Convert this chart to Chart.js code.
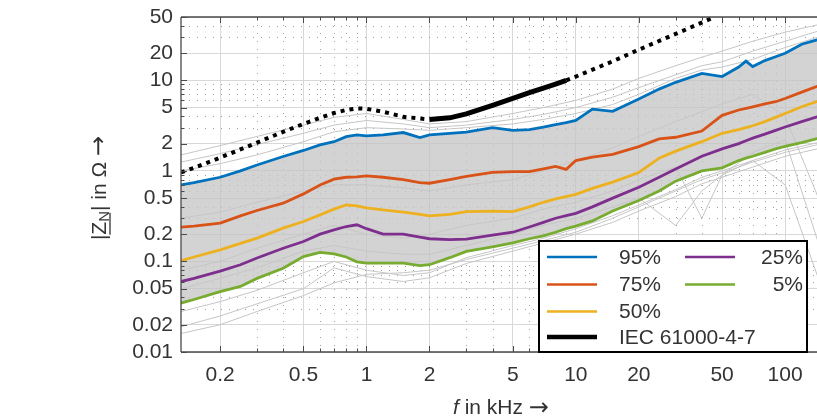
<!DOCTYPE html>
<html>
<head>
<meta charset="utf-8">
<script src="https://cdn.jsdelivr.net/npm/chart.js@4.4.1/dist/chart.umd.min.js"></script>
<style>
	html, body { margin: 0; padding: 0; background: #fff; overflow: hidden; }
	#wrap { width: 830px; height: 420px; }
</style>
</head>
<body>
<div id="wrap"><canvas id="zChart" width="830" height="420"></canvas></div>
<script>
// frequency grid of the percentile curves (kHz)
const freq = [0.13, 0.15, 0.2, 0.25, 0.3, 0.4, 0.5, 0.6, 0.7, 0.8, 0.9, 1, 1.2, 1.5, 1.8, 2, 2.5, 3, 4, 5, 6, 7, 8, 9, 10, 12, 15, 20, 25, 30, 40, 50, 60, 65, 70, 80, 90, 100, 120, 150];

// percentiles of |Z_N| in Ohm
const p95 = [0.70, 0.74, 0.85, 1.0, 1.16, 1.44, 1.68, 1.94, 2.10, 2.39, 2.5, 2.43, 2.5, 2.65, 2.33, 2.5, 2.6, 2.68, 3.0, 2.8, 2.85, 3.05, 3.25, 3.4, 3.6, 4.8, 4.55, 6.2, 8.0, 9.5, 11.9, 11.0, 14.0, 16.3, 14.2, 16.5, 18.2, 19.9, 25, 29];
const p75 = [0.239, 0.245, 0.265, 0.318, 0.365, 0.44, 0.557, 0.70, 0.81, 0.85, 0.86, 0.88, 0.85, 0.80, 0.74, 0.73, 0.80, 0.87, 0.96, 0.98, 0.98, 1.05, 1.12, 1.04, 1.30, 1.42, 1.52, 1.85, 2.25, 2.35, 2.75, 4.1, 4.7, 4.9, 5.1, 5.5, 5.8, 6.3, 7.4, 9.0];
const p50 = [0.102, 0.112, 0.134, 0.158, 0.181, 0.233, 0.276, 0.327, 0.378, 0.42, 0.41, 0.39, 0.37, 0.35, 0.33, 0.318, 0.33, 0.355, 0.36, 0.355, 0.40, 0.45, 0.49, 0.52, 0.55, 0.64, 0.75, 0.96, 1.38, 1.65, 2.1, 2.6, 2.85, 3.0, 3.15, 3.5, 3.9, 4.3, 5.1, 6.1];
const p25 = [0.060, 0.065, 0.078, 0.092, 0.109, 0.14, 0.166, 0.20, 0.223, 0.243, 0.254, 0.23, 0.20, 0.20, 0.185, 0.178, 0.174, 0.176, 0.195, 0.21, 0.24, 0.27, 0.30, 0.32, 0.34, 0.40, 0.50, 0.66, 0.85, 1.05, 1.45, 1.75, 2.0, 2.15, 2.3, 2.55, 2.8, 3.05, 3.5, 4.1];
const p5 = [0.0347, 0.038, 0.0465, 0.053, 0.065, 0.084, 0.113, 0.126, 0.121, 0.112, 0.099, 0.096, 0.096, 0.096, 0.090, 0.092, 0.11, 0.129, 0.145, 0.16, 0.178, 0.192, 0.21, 0.23, 0.245, 0.28, 0.36, 0.47, 0.6, 0.77, 1.0, 1.08, 1.3, 1.38, 1.45, 1.6, 1.75, 1.86, 2.05, 2.35];

// IEC 61000-4-7 reference impedance (solid inside 2..9 kHz)
const iecFreq = [0.13, 0.15, 0.2, 0.3, 0.4, 0.5, 0.6, 0.7, 0.8, 0.9, 1, 1.2, 1.5, 2, 2.5, 3, 4, 5, 6, 7, 8, 9, 10, 15, 20, 30, 46];
const iecZ = [0.96, 1.08, 1.4, 2.05, 2.7, 3.3, 3.85, 4.35, 4.7, 4.9, 4.85, 4.5, 3.95, 3.7, 3.85, 4.25, 5.3, 6.3, 7.3, 8.2, 9.1, 10.0, 11.0, 16.2, 21.8, 32.5, 50];
const iecSolidFrom = 2;
const iecSolidTo = 9;

// a few of the individual measured curves (grey)
const grayFreq = [0.13, 0.2, 0.3, 0.5, 0.7, 1, 1.5, 2, 3, 5, 7, 10, 15, 20, 30, 40, 50, 70, 100, 150];
const grayUp1 = [1.5, 1.9, 2.4, 3.2, 3.9, 4.3, 3.7, 3.3, 3.5, 4.3, 5.0, 6.0, 8.0, 10.5, 14.5, 18, 21, 27, 34, 42];
const grayUp2 = [1.25, 1.55, 1.95, 2.6, 3.2, 3.6, 3.3, 3.0, 3.2, 3.7, 4.2, 5.0, 6.5, 8.3, 11.5, 14.5, 16, 21, 27, 36];
const grayUp3 = [1.0, 1.2, 1.5, 2.1, 2.7, 3.0, 2.9, 2.8, 3.0, 3.3, 3.7, 4.3, 5.4, 7.0, 10.5, 13, 14, 17, 23, 31];
const grayLow1 = [0.016, 0.02, 0.028, 0.042, 0.058, 0.072, 0.075, 0.08, 0.105, 0.14, 0.17, 0.21, 0.3, 0.4, 0.6, 0.8, 0.95, 1.25, 1.6, 2.0];
const grayLow2 = [0.019, 0.025, 0.034, 0.05, 0.085, 0.068, 0.06, 0.066, 0.095, 0.13, 0.16, 0.2, 0.27, 0.36, 0.52, 0.72, 0.85, 1.1, 1.45, 1.8];
const grayLow3 = [0.028, 0.036, 0.048, 0.075, 0.1, 0.08, 0.07, 0.075, 0.11, 0.15, 0.18, 0.23, 0.32, 0.42, 0.62, 0.85, 1.0, 1.3, 1.7, 2.1];
const grayRes1 = [0.05, 0.065, 0.085, 0.13, 0.15, 0.13, 0.12, 0.12, 0.15, 0.2, 0.25, 0.3, 0.4, 0.5, 0.25, 0.6, 0.9, 1.3, 0.7, 0.05];
const grayRes2 = [0.08, 0.1, 0.14, 0.2, 0.25, 0.2, 0.18, 0.2, 0.25, 0.3, 0.38, 0.45, 0.6, 0.8, 1.1, 0.3, 0.9, 1.6, 2.2, 0.12];
const grayRes3 = [0.3, 0.35, 0.45, 0.6, 0.7, 0.7, 0.65, 0.6, 0.7, 0.8, 1.0, 1.3, 1.8, 2.4, 3.5, 4.5, 5.5, 7, 4, 0.4];

// axis ticks
const xMajor = [0.2, 0.5, 1, 2, 5, 10, 20, 50, 100];
const yMajor = [0.01, 0.02, 0.05, 0.1, 0.2, 0.5, 1, 2, 5, 10, 20, 50];

const textColor = "#333";
const fontFamily = "'Liberation Sans', Arial, sans-serif";

function decadeTicks(min, max) {
	const out = [];
	for (let e = -2; e <= 2; e++) {
		for (let m = 1; m <= 9; m++) {
			const v = Number((m * Math.pow(10, e)).toPrecision(3));
			if (v >= min && v <= max) out.push(v);
		}
	}
	return out;
}
const xTicks = decadeTicks(0.13, 150);
const yTicks = decadeTicks(0.01, 50);

const toPoints = (xs, ys) => xs.map((x, i) => ({ x: x, y: ys[i] }));
const fmt = (v) => String(Number(v.toPrecision(3)));

const grayTraces = [grayUp1, grayUp2, grayUp3, grayLow1, grayLow2, grayLow3, grayRes1, grayRes2, grayRes3];

const datasets = [
	{
		label: "IEC 61000-4-7",
		data: toPoints(iecFreq, iecZ),
		borderColor: "#000",
		borderWidth: 4,
		borderCapStyle: "butt",
		borderDash: [4, 5],
		segment: {
			borderDash: (c) => (c.p0.parsed.x >= iecSolidFrom && c.p1.parsed.x <= iecSolidTo ? [] : [4, 5]),
			borderWidth: (c) => (c.p0.parsed.x >= iecSolidFrom && c.p1.parsed.x <= iecSolidTo ? 5 : 4),
		},
	},
	{ label: "95%", data: toPoints(freq, p95), borderColor: "#0072BD", borderWidth: 2.8 },
	{ label: "75%", data: toPoints(freq, p75), borderColor: "#D95319", borderWidth: 2.8 },
	{ label: "50%", data: toPoints(freq, p50), borderColor: "#EDB120", borderWidth: 2.8 },
	{ label: "25%", data: toPoints(freq, p25), borderColor: "#7E2F8E", borderWidth: 2.8 },
	{ label: "5%", data: toPoints(freq, p5), borderColor: "#77AC30", borderWidth: 2.8 },
];
grayTraces.forEach((g, i) => {
	datasets.push({ label: "gray" + i, data: toPoints(grayFreq, g), borderColor: "#c6c6c6", borderWidth: 1 });
});
// dense area of measured curves between 5% and 95%
datasets.push({
	label: "band",
	data: toPoints(freq, p5),
	borderWidth: 0,
	borderColor: "rgba(0,0,0,0)",
	backgroundColor: "rgba(196,196,196,0.75)",
	fill: 1,
});

function drawLine(ctx, x1, y1, x2, y2) {
	ctx.beginPath();
	ctx.moveTo(x1, y1);
	ctx.lineTo(x2, y2);
	ctx.stroke();
}

const decorPlugin = {
	id: "decor",
	beforeDatasetsDraw(chart) {
		// dotted minor grid
		const { ctx, chartArea: a, scales } = chart;
		ctx.save();
		ctx.strokeStyle = "rgba(110,110,110,0.65)";
		ctx.lineWidth = 1;
		ctx.setLineDash([1, 7]);
		xTicks.filter((v) => !xMajor.includes(v)).forEach((v) => {
			const px = Math.round(scales.x.getPixelForValue(v)) + 0.5;
			drawLine(ctx, px, a.top, px, a.bottom);
		});
		yTicks.filter((v) => !yMajor.includes(v)).forEach((v) => {
			const py = Math.round(scales.y.getPixelForValue(v)) + 0.5;
			drawLine(ctx, a.left, py, a.right, py);
		});
		ctx.restore();
	},
	afterDatasetsDraw(chart) {
		// axes box and inward ticks
		const { ctx, chartArea: a, scales } = chart;
		ctx.save();
		ctx.strokeStyle = "#4a4a4a";
		ctx.lineWidth = 1.3;
		drawLine(ctx, a.left, a.top, a.right, a.top);
		drawLine(ctx, a.left, a.top, a.left, a.bottom);
		drawLine(ctx, a.left, a.bottom, a.right, a.bottom);
		drawLine(ctx, a.right, a.top, a.right, a.bottom);
		ctx.lineWidth = 1;
		xTicks.forEach((v) => {
			const px = Math.round(scales.x.getPixelForValue(v)) + 0.5;
			const len = xMajor.includes(v) ? 6 : 3.5;
			drawLine(ctx, px, a.bottom, px, a.bottom - len);
			drawLine(ctx, px, a.top, px, a.top + len);
		});
		yTicks.forEach((v) => {
			const py = Math.round(scales.y.getPixelForValue(v)) + 0.5;
			const len = yMajor.includes(v) ? 6 : 3.5;
			drawLine(ctx, a.left, py, a.left + len, py);
		});
		ctx.restore();
	},
	afterDraw(chart) {
		const { ctx } = chart;
		ctx.save();
		ctx.fillStyle = textColor;
		ctx.strokeStyle = textColor;

		// y axis title: |Z_N| in Ohm ->
		ctx.translate(100, 188);
		ctx.rotate(-Math.PI / 2);
		ctx.textBaseline = "middle";
		ctx.textAlign = "left";
		const big = "21px " + fontFamily;
		const small = "15px " + fontFamily;
		const arrow = "24px 'DejaVu Sans', sans-serif";
		const parts = [
			{ t: "|", f: big, dy: 0 },
			{ t: "Z", f: big, dy: 0, u: true },
			{ t: "N", f: small, dy: 5 },
			{ t: "| in \u03A9 ", f: big, dy: 0 },
			{ t: "\u2192", f: arrow, dy: 0 },
		];
		let total = 0;
		parts.forEach((p) => {
			ctx.font = p.f;
			p.w = ctx.measureText(p.t).width;
			total += p.w;
		});
		let cx = -total / 2;
		parts.forEach((p) => {
			ctx.font = p.f;
			ctx.fillText(p.t, cx, p.dy);
			if (p.u) {
				ctx.lineWidth = 1.3;
				drawLine(ctx, cx, 10, cx + p.w + 9, 10);
			}
			cx += p.w;
		});
		ctx.setTransform(1, 0, 0, 1, 0, 0);

		// x axis title: f in kHz ->
		ctx.textBaseline = "middle";
		ctx.font = "italic 21px " + fontFamily;
		const wf = ctx.measureText("f").width;
		ctx.font = "21px " + fontFamily;
		const rest = " in kHz ";
		const wr = ctx.measureText(rest).width;
		ctx.font = arrow;
		const wa = ctx.measureText("\u2192").width;
		let sx = 501 - (wf + wr + wa) / 2;
		ctx.font = "italic 21px " + fontFamily;
		ctx.fillText("f", sx, 408);
		ctx.font = "21px " + fontFamily;
		ctx.fillText(rest, sx + wf, 408);
		ctx.font = arrow;
		ctx.fillText("\u2192", sx + wf + wr, 409);

		// legend box
		const bx = 539, by = 241, bw = 268, bh = 111;
		ctx.fillStyle = "#fff";
		ctx.fillRect(bx, by, bw, bh);
		ctx.strokeStyle = "#000";
		ctx.lineWidth = 2;
		ctx.strokeRect(bx, by, bw, bh);
		const find = (lbl) => chart.data.datasets.find((d) => d.label === lbl);
		const rowY = [257, 284.5, 311.5, 337];
		const leftCol = ["95%", "75%", "50%", "IEC 61000-4-7"];
		const rightCol = ["25%", "5%"];
		ctx.font = "21px " + fontFamily;
		leftCol.forEach((lbl, i) => {
			const d = find(lbl);
			ctx.strokeStyle = d.borderColor;
			ctx.lineWidth = lbl.startsWith("IEC") ? 4.5 : 2.5;
			drawLine(ctx, 547, rowY[i], 597, rowY[i]);
			ctx.fillStyle = textColor;
			ctx.textAlign = "left";
			ctx.fillText(lbl, 619, rowY[i] + 1);
		});
		rightCol.forEach((lbl, i) => {
			const d = find(lbl);
			ctx.strokeStyle = d.borderColor;
			ctx.lineWidth = 2.5;
			drawLine(ctx, 685, rowY[i], 735, rowY[i]);
			ctx.fillStyle = textColor;
			ctx.textAlign = "right";
			ctx.fillText(lbl, 803, rowY[i] + 1);
		});
		ctx.restore();
	},
};

new Chart(document.getElementById("zChart"), {
	type: "line",
	data: { datasets: datasets },
	options: {
		responsive: false,
		animation: false,
		devicePixelRatio: 1,
		layout: { padding: { top: 17, left: 0, right: 8, bottom: 0 } },
		elements: { point: { radius: 0 }, line: { tension: 0 } },
		plugins: { legend: { display: false }, tooltip: { enabled: false } },
		scales: {
			x: {
				type: "logarithmic",
				min: 0.13,
				max: 150,
				border: { display: false },
				grid: {
					drawTicks: false,
					color: (c) => (c.tick && xMajor.includes(c.tick.value) ? "#d8d8d8" : "rgba(0,0,0,0)"),
				},
				afterBuildTicks: (s) => { s.ticks = xTicks.map((v) => ({ value: v })); },
				afterFit: (s) => { s.height = 68; s.paddingLeft = 0; s.paddingRight = 0; },
				ticks: {
					autoSkip: false,
					maxRotation: 0,
					padding: 11,
					color: textColor,
					font: { family: fontFamily, size: 21 },
					callback: (v) => (xMajor.includes(v) ? fmt(v) : ""),
				},
			},
			y: {
				type: "logarithmic",
				min: 0.01,
				max: 50,
				border: { display: false },
				grid: {
					drawTicks: false,
					color: (c) => (c.tick && yMajor.includes(c.tick.value) ? "#d8d8d8" : "rgba(0,0,0,0)"),
				},
				afterBuildTicks: (s) => { s.ticks = yTicks.map((v) => ({ value: v })); },
				afterFit: (s) => { s.width = 181; s.paddingTop = 0; s.paddingBottom = 0; },
				ticks: {
					autoSkip: false,
					padding: 8,
					color: textColor,
					font: { family: fontFamily, size: 21 },
					callback: (v) => (yMajor.includes(v) ? fmt(v) : ""),
				},
			},
		},
	},
	plugins: [decorPlugin],
});
</script>
</body>
</html>
